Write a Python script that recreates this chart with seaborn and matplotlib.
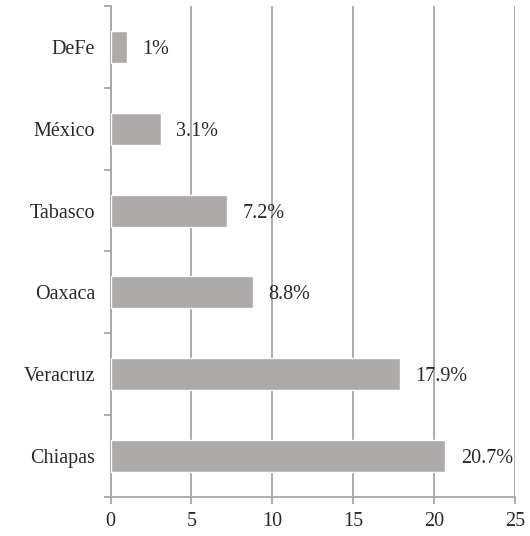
import matplotlib.pyplot as plt
import numpy as np
import pandas as pd
import seaborn as sns

states = ["DeFe", "México", "Tabasco", "Oaxaca", "Veracruz", "Chiapas"]
percent = [1.0, 3.1, 7.2, 8.8, 17.9, 20.7]
value_labels = ["1%", "3.1%", "7.2%", "8.8%", "17.9%", "20.7%"]
x_ticks = [0, 5, 10, 15, 20, 25]

BAR = "#aeaaa9"
GRID = "#a6a6a6"

sns.set_style("white")
plt.rcParams["font.family"] = ["Liberation Serif", "DejaVu Serif"]

df = pd.DataFrame({"state": states, "percent": percent})

fig = plt.figure(figsize=(5.3, 5.36), dpi=100)
ax = fig.add_axes([0.2085, 0.0728, 0.9717 - 0.2085, 0.9888 - 0.0728])

sns.barplot(data=df, x="percent", y="state", order=states, color=BAR,
            saturation=1, width=0.39, ax=ax, zorder=3)

# value labels just right of each bar
for i, (v, lab) in enumerate(zip(percent, value_labels)):
    ax.annotate(lab, xy=(v, i), xytext=(11, 0), textcoords="offset points",
                va="center_baseline", ha="left", fontsize=14.5, color="#2a2a2a")

ax.set_xlim(0, 25)
ax.set_ylim(len(states) - 0.5, -0.5)
ax.set_xticks(x_ticks)
ax.set_xticklabels([str(t) for t in x_ticks], fontsize=14.5, color="#2a2a2a")
ax.set_yticks(range(len(states)))
ax.set_yticklabels(states, fontsize=14.5, color="#2a2a2a")
ax.set_yticks(np.arange(-0.5, len(states)), minor=True)
ax.tick_params(axis="y", which="major", left=False, length=0, pad=11)
ax.tick_params(axis="y", which="minor", left=True, length=5, color=GRID, width=1.3)
ax.tick_params(axis="x", which="major", bottom=True, length=5, color=GRID, width=1.3, pad=6)
ax.xaxis.grid(True, color=GRID, linewidth=1.3)
ax.set_axisbelow(True)
ax.set_xlabel("")
ax.set_ylabel("")

for side in ("top", "right"):
    ax.spines[side].set_visible(False)
for side in ("left", "bottom"):
    ax.spines[side].set_color(GRID)
    ax.spines[side].set_linewidth(1.3)

fig.savefig("out.png", dpi=100)
